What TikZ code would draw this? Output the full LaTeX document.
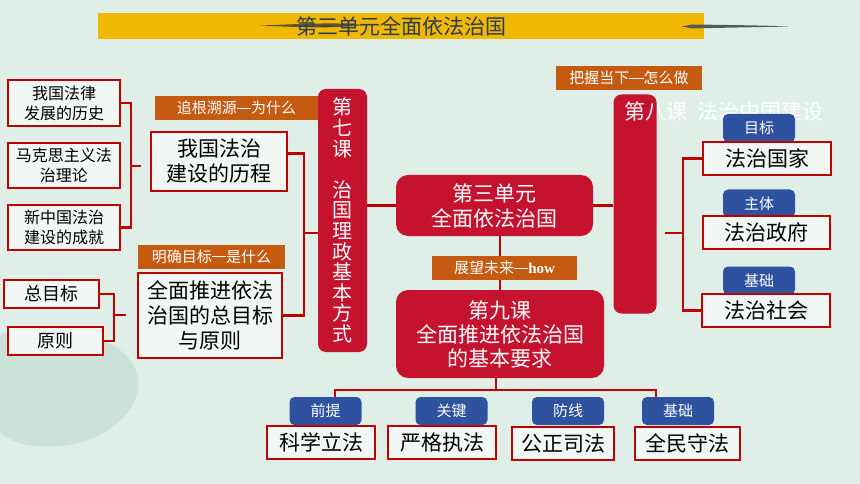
\documentclass[tikz,border=0pt]{standalone}
\usepackage{fontspec}
\usepackage{tikz}
\usetikzlibrary{positioning,calc}
\newfontfamily\cjk{Noto Sans CJK SC}
\newfontfamily\howfont{Liberation Serif}
\newcommand{\cjkdash}{\rule[0.34em]{0.95em}{0.065em}}
\definecolor{mapbg}{HTML}{DFEFE8}
\definecolor{mapblot}{HTML}{C6DFD4}
\definecolor{mapyellow}{HTML}{F0B800}
\definecolor{mapred}{HTML}{C4122F}
\definecolor{mapline}{HTML}{C00000}
\definecolor{maporange}{HTML}{C55A11}
\definecolor{mapblue}{HTML}{2E52A0}
\definecolor{mapink}{HTML}{2B3A55}
\definecolor{mapbox}{HTML}{F1F8F4}

\begin{document}
\begin{tikzpicture}[x=1pt, y=-1pt,
    redblock/.style={fill=mapred, rounded corners=12pt, text=white, align=center, inner sep=0pt},
    whitebox/.style={draw=mapline, line width=2pt, fill=mapbox, align=center, inner sep=0pt},
    orangetag/.style={fill=maporange, text=white, inner sep=0pt, minimum height=24pt,
                      font=\cjk\fontsize{15}{18}\selectfont},
    bluetag/.style={fill=mapblue, rounded corners=5pt, text=white, inner sep=0pt,
                    minimum width=72pt, minimum height=28pt, font=\cjk\fontsize{15}{18}\selectfont},
    smalltext/.style={font=\cjk\fontsize{16}{20}\selectfont},
    bigtext/.style={font=\cjk\fontsize{21}{25}\selectfont},
    link/.style={draw=mapline, line width=2.4pt},
]
\useasboundingbox (0,0) rectangle (860,484);
\fill[mapbg] (0,0) rectangle (860,484);
\fill[mapblot, opacity=0.8] (0,335) .. controls (45,318) and (115,330) .. (135,368)
    .. controls (150,400) and (115,440) .. (62,446) .. controls (30,449) and (10,442) .. (0,432) -- cycle;

% title
\node[fill=mapyellow, minimum width=606pt, minimum height=26pt, inner sep=0pt, text=mapink,
      font=\cjk\fontsize{21}{24}\selectfont] (title) at (401,26) {第三单元全面依法治国};
\fill[black!75, opacity=0.85] (260,25.5) .. controls (300,24) and (340,22) .. (363,25)
    .. controls (340,28.5) and (300,27.5) .. (260,25.5) -- cycle;
\fill[black!65] (682,26.5) -- (692,24.5) .. controls (730,25) and (770,25.5) .. (788,26.5)
    .. controls (770,27) and (730,27.5) .. (692,28.5) -- cycle;

% lesson 7
\node[whitebox, smalltext, minimum width=112pt, minimum height=46pt] (b1) at (64,103) {我国法律\\发展的历史};
\node[whitebox, smalltext, minimum width=112pt, minimum height=45pt] (b2) at (64,165.5) {马克思主义法\\治理论};
\node[whitebox, smalltext, minimum width=112pt, minimum height=45pt] (b3) at (64,227.5) {新中国法治\\建设的成就};
\node[orangetag, minimum width=163pt] (why) at (236.5,108) {追根溯源\cjkdash 为什么};
\node[whitebox, bigtext, minimum width=136pt, minimum height=59pt] (hist) at (219,161.5) {我国法治\\建设的历程};
\node[orangetag, minimum width=147pt] (what) at (211.5,256.5) {明确目标\cjkdash 是什么};
\node[whitebox, bigtext, minimum width=144pt, minimum height=85pt] (goal) at (210,315.5) {全面推进依法\\治国的总目标\\与原则};
\node[whitebox, font=\cjk\fontsize{18}{20}\selectfont, minimum width=95pt, minimum height=28pt] (g1) at (51.5,294) {总目标};
\node[whitebox, font=\cjk\fontsize{18}{20}\selectfont, minimum width=95pt, minimum height=28pt] (g2) at (55.5,341) {原则};
\node[redblock, rounded corners=8pt, minimum width=49pt, minimum height=263pt,
      font=\cjk\fontsize{20}{20.6}\selectfont] (l7) at (342.5,220.5)
    {第\\七\\课\\[20.6pt]治\\国\\理\\政\\基\\本\\方\\式};

% unit and lesson 9
\node[redblock, bigtext, minimum width=197pt, minimum height=61pt] (unit) at (494.5,205.5) {第三单元\\全面依法治国};
\node[redblock, font=\cjk\fontsize{21}{24}\selectfont, minimum width=208pt, minimum height=88pt] (l9) at (500,334)
    {第九课\\全面推进依法治国\\的基本要求};
\node[bluetag] (p1) at (325.5,411) {前提};
\node[bluetag] (p2) at (451.5,411) {关键};
\node[bluetag] (p3) at (568,411) {防线};
\node[bluetag] (p4) at (678,411) {基础};
\node[whitebox, bigtext, minimum width=108pt, minimum height=33pt] (s1) at (321,442.5) {科学立法};
\node[whitebox, bigtext, minimum width=108pt, minimum height=33pt] (s2) at (442,442.5) {严格执法};
\node[whitebox, bigtext, minimum width=102pt, minimum height=33pt] (s3) at (563,443.5) {公正司法};
\node[whitebox, bigtext, minimum width=105pt, minimum height=33pt] (s4) at (687.5,443.5) {全民守法};

% lesson 8
\node[orangetag, minimum width=146pt] (now) at (629,78) {把握当下\cjkdash 怎么做};
\node[redblock, rounded corners=8pt, minimum width=43pt, minimum height=219pt] (l8) at (635,204) {};
\node[anchor=west, text=white, inner sep=0pt, font=\cjk\fontsize{21}{24}\selectfont] (l8title) at (624,112)
    {第八课\hspace{0.5em}法治中国建设};
\node[bluetag] (r1) at (759,128) {目标};
\node[bluetag] (r2) at (759,203.5) {主体};
\node[bluetag] (r3) at (759,280.5) {基础};
\node[whitebox, bigtext, minimum width=128pt, minimum height=33pt] (f1) at (767,158.5) {法治国家};
\node[whitebox, bigtext, minimum width=127pt, minimum height=33pt] (f2) at (766.5,232) {法治政府};
\node[whitebox, bigtext, minimum width=128pt, minimum height=33pt] (f3) at (766,310.5) {法治社会};

% connectors
\coordinate (k1) at (131,166);
\coordinate (k2) at (304,233);
\coordinate (k3) at (114,315);
\coordinate (k4) at (496,390);
\coordinate (k5) at (683,233);
\draw[link] (b1.east) -| (k1) |- (b3.east);
\draw[link, shorten >=9pt] (k1) -- (k1 -| hist.west);
\draw[link] ([yshift=8pt]hist.east) -| (k2) |- (goal.east);
\draw[link] (k2) -- (k2 -| l7.west);
\draw[link] (g1.east) -| (k3) |- (g2.east);
\draw[link, shorten >=11pt] (k3) -- (k3 -| goal.west);
\draw[link] (l7.east |- unit.west) -- (unit.west);
\draw[link] (unit.east) -- (unit.east -| l8.west);
\draw[link] (l9.north |- unit.south) -- (l9.north);
\draw[link] (k4 |- l9.south) -- (k4);
\draw[link] ([xshift=9.5pt]p1.north) |- (k4) -| ([xshift=-22pt]p4.north);
\draw[link] (f1.west) -| (k5) |- (f3.west);
\draw[link, shorten >=8.5pt] (k5) -- (k5 -| l8.east);
\node[orangetag, minimum width=145pt] (how) at (504.5,268) {展望未来\cjkdash{\howfont\bfseries how}};
\end{tikzpicture}
\end{document}
